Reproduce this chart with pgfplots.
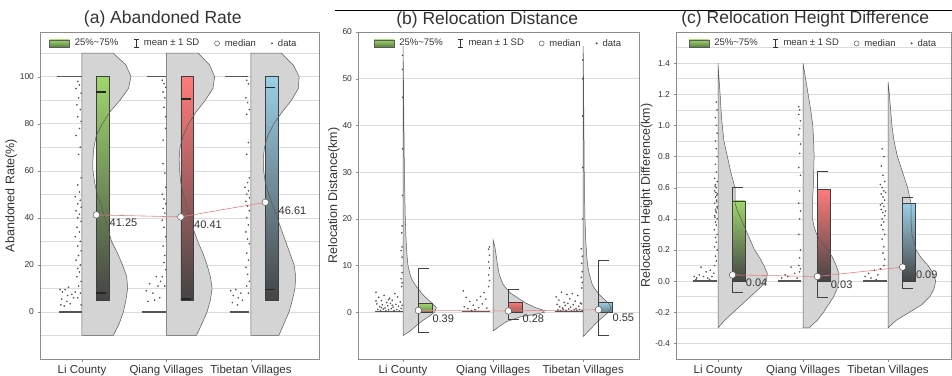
\documentclass[border=0pt]{standalone}
\usepackage{pgfplots}
\pgfplotsset{compat=1.18}
\usepackage{pgfplotstable}
\usepackage{fontspec}
\setmainfont{Liberation Sans}

\definecolor{vgray}{HTML}{D4D4D4}
\definecolor{vline}{HTML}{5A5A5A}
\definecolor{gtop}{HTML}{9ED66C}
\definecolor{rtop}{HTML}{FF7A7A}
\definecolor{btop}{HTML}{9BCFE8}
\definecolor{bbot}{HTML}{444444}
\definecolor{dotc}{HTML}{555555}
\definecolor{medline}{HTML}{E98080}
\definecolor{gridc}{HTML}{DCDCDC}
\definecolor{framec}{HTML}{8C8C8C}
\definecolor{txt}{HTML}{333333}

% ---------- violin outlines (y, width offset from category) ----------
\pgfplotstableread[row sep=\\]{y w\\ -10 0\\ 110 0\\ 110 0.37\\ 105 0.52\\ 100 0.58\\ 95 0.55\\ 90 0.45\\ 85 0.33\\ 80 0.24\\ 75 0.17\\ 70 0.14\\ 65 0.13\\ 60 0.13\\ 55 0.15\\ 50 0.18\\ 45 0.23\\ 40 0.27\\ 35 0.31\\ 30 0.35\\ 25 0.42\\ 20 0.48\\ 15 0.53\\ 10 0.54\\ 5 0.52\\ 0 0.49\\ -5 0.44\\ -10 0.37\\ -10 0\\}\vaLi
\pgfplotstableread[row sep=\\]{y w\\ -10 0\\ 110 0\\ 110 0.375\\ 105 0.51\\ 100 0.57\\ 95 0.55\\ 90 0.46\\ 85 0.35\\ 80 0.26\\ 75 0.2\\ 70 0.16\\ 65 0.15\\ 60 0.155\\ 55 0.17\\ 50 0.2\\ 45 0.24\\ 40 0.28\\ 35 0.32\\ 30 0.37\\ 25 0.43\\ 20 0.48\\ 15 0.52\\ 10 0.54\\ 5 0.52\\ 0 0.48\\ -5 0.42\\ -10 0.355\\ -10 0\\}\vaQi
\pgfplotstableread[row sep=\\]{y w\\ -10 0\\ 110 0\\ 110 0.36\\ 105 0.5\\ 100 0.57\\ 95 0.56\\ 90 0.48\\ 85 0.37\\ 80 0.27\\ 75 0.2\\ 70 0.16\\ 65 0.145\\ 60 0.15\\ 55 0.17\\ 50 0.21\\ 45 0.26\\ 40 0.31\\ 35 0.36\\ 30 0.41\\ 25 0.46\\ 20 0.51\\ 15 0.53\\ 10 0.52\\ 5 0.49\\ 0 0.45\\ -5 0.39\\ -10 0.33\\ -10 0\\}\vaTi

\pgfplotstableread[row sep=\\]{y w\\ -5 0\\ 57 0\\ 50 0.005\\ 40 0.01\\ 30 0.015\\ 20 0.025\\ 15 0.035\\ 12 0.045\\ 10 0.055\\ 8 0.08\\ 7 0.10\\ 6 0.13\\ 5 0.17\\ 4 0.21\\ 3 0.26\\ 2 0.32\\ 1 0.37\\ 0 0.35\\ -1 0.28\\ -2 0.2\\ -3 0.14\\ -4 0.08\\ -5 0\\}\vbLi
\pgfplotstableread[row sep=\\]{y w\\ -4 0\\ 15.5 0\\ 14 0.02\\ 12 0.035\\ 10 0.05\\ 8 0.07\\ 6 0.11\\ 5 0.15\\ 4 0.2\\ 3 0.28\\ 2 0.36\\ 1 0.47\\ 0.5 0.55\\ 0 0.57\\ -0.5 0.45\\ -1 0.3\\ -2 0.15\\ -3 0.07\\ -4 0\\}\vbQi
\pgfplotstableread[row sep=\\]{y w\\ -5.2 0\\ 57 0\\ 50 0.004\\ 40 0.008\\ 30 0.012\\ 20 0.02\\ 15 0.03\\ 12 0.04\\ 10 0.05\\ 8 0.07\\ 6 0.10\\ 5 0.13\\ 4 0.17\\ 3 0.22\\ 2 0.28\\ 1 0.31\\ 0 0.28\\ -1 0.22\\ -2 0.16\\ -3 0.11\\ -4 0.06\\ -5.2 0\\}\vbTi

\pgfplotstableread[row sep=\\]{y w\\ -0.3 0\\ 1.4 0\\ 1.3 0.012\\ 1.2 0.025\\ 1.1 0.035\\ 1.0 0.05\\ 0.9 0.07\\ 0.8 0.11\\ 0.7 0.15\\ 0.6 0.2\\ 0.55 0.2\\ 0.5 0.2\\ 0.45 0.23\\ 0.4 0.27\\ 0.3 0.35\\ 0.2 0.43\\ 0.15 0.49\\ 0.1 0.54\\ 0.05 0.58\\ 0 0.57\\ -0.05 0.48\\ -0.1 0.38\\ -0.15 0.28\\ -0.2 0.18\\ -0.25 0.08\\ -0.3 0\\}\vcLi
\pgfplotstableread[row sep=\\]{y w\\ -0.3 0\\ 1.4 0\\ 1.3 0.03\\ 1.2 0.06\\ 1.1 0.09\\ 1.0 0.115\\ 0.9 0.125\\ 0.8 0.13\\ 0.7 0.125\\ 0.6 0.12\\ 0.5 0.11\\ 0.4 0.11\\ 0.35 0.13\\ 0.3 0.16\\ 0.25 0.22\\ 0.2 0.29\\ 0.15 0.35\\ 0.1 0.39\\ 0.05 0.42\\ 0 0.42\\ -0.05 0.4\\ -0.1 0.36\\ -0.15 0.3\\ -0.2 0.24\\ -0.25 0.17\\ -0.3 0.07\\ -0.3 0\\}\vcQi
\pgfplotstableread[row sep=\\]{y w\\ -0.3 0\\ 1.28 0\\ 1.2 0.015\\ 1.1 0.03\\ 1.0 0.045\\ 0.9 0.07\\ 0.8 0.11\\ 0.7 0.17\\ 0.6 0.23\\ 0.5 0.27\\ 0.4 0.27\\ 0.3 0.28\\ 0.2 0.33\\ 0.15 0.39\\ 0.1 0.47\\ 0.05 0.53\\ 0 0.56\\ -0.05 0.54\\ -0.1 0.49\\ -0.15 0.4\\ -0.2 0.25\\ -0.25 0.1\\ -0.3 0\\}\vcTi

\pgfplotsset{
  panel/.style={
    scale only axis, anchor=south west, height=327pt,
    axis line style={framec},
    tick style={framec},
    tick align=outside, major tick length=2.5pt, minor tick length=0pt,
    xtick pos=bottom, ytick pos=left,
    ymajorgrids, yminorgrids,
    major grid style={gridc, line width=0.5pt},
    minor grid style={gridc, line width=0.5pt},
    xtick={1,2,3}, xticklabels={Li County, Qiang Villages, Tibetan Villages},
    xticklabel style={font=\fontsize{11.5}{13}\selectfont, text=txt},
    yticklabel style={font=\fontsize{8.5}{10}\selectfont, text=txt},
    /pgf/number format/assume math mode=true,
    ylabel style={font=\fontsize{12.5}{14}\selectfont, text=txt},
    ylabel shift=-4pt,
    title style={font=\fontsize{17.5}{20}\selectfont, anchor=base, yshift=2pt, text=txt},
    legend style={draw=none, fill=none, at={(0.5,1)}, anchor=north, yshift=-4pt,
      font=\fontsize{9.5}{11}\selectfont, text=txt, legend columns=4,
      /tikz/every odd column/.append style={column sep=3pt},
      /tikz/every even column/.append style={column sep=13pt}, inner sep=1pt},
    unbounded coords=jump,
  },
  violinfill/.style={fill=vgray, draw=none, forget plot},
  violinline/.style={draw=vline, line width=0.5pt, fill=none, forget plot},
  boxstyle/.style={draw=vline!70!black, line width=0.5pt, forget plot},
  dots/.style={only marks, mark=*, mark size=0.6pt, color=dotc, mark options={draw=none, fill=dotc}, forget plot},
  dotline/.style={dotc, line width=1.3pt, forget plot},
  whisk/.style={black!75, line width=0.7pt, forget plot},
  medl/.style={medline, line width=0.6pt, forget plot},
  medm/.style={only marks, mark=*, mark size=3.3pt, mark options={fill=white, draw=vline, line width=0.5pt}, forget plot},
}
\tikzset{vlabel/.style={anchor=west, inner sep=0.5pt, yshift=-8pt, font=\fontsize{11}{12}\selectfont, text=txt}}

\newcommand{\legendrow}{%
  \addlegendimage{legend image code/.code={\shade[top color=gtop, bottom color=gtop!60!black, draw=vline] (0pt,-3.5pt) rectangle (20pt,3.5pt);}}
  \addlegendentry{25\%\textasciitilde75\%}
  \addlegendimage{legend image code/.code={\draw[black!80, line width=0.6pt] (4pt,-4pt)--(4pt,4pt) (1.5pt,4pt)--(6.5pt,4pt) (1.5pt,-4pt)--(6.5pt,-4pt);}}
  \addlegendentry{mean ± 1 SD}
  \addlegendimage{legend image code/.code={\draw[vline, fill=white, line width=0.5pt] (4pt,0pt) circle (2.5pt);}}
  \addlegendentry{median}
  \addlegendimage{legend image code/.code={\fill[dotc] (4pt,0pt) circle (0.8pt);}}
  \addlegendentry{data}
}

\begin{document}
\begin{tikzpicture}
\useasboundingbox (0pt,0pt) rectangle (952pt,375pt);
\draw[black, line width=0.8pt] (335pt,365pt) -- (952pt,365pt);

% ================= (a) =================
\begin{axis}[panel, at={(40pt,16pt)}, width=279pt,
  xmin=0.503, xmax=3.805, ymin=-20, ymax=119,
  ytick={0,20,...,100}, minor ytick={-10,10,30,50,70,90,110},
  ylabel={Abandoned Rate(\%)}, title={(a) Abandoned Rate},
  title style={at={(0.44,1)}}, legend style={at={(0.48,1)}}]
\legendrow
\addplot[violinfill] table[x expr=\thisrow{w}+1, y=y] {\vaLi};
\addplot[violinfill] table[x expr=\thisrow{w}+2, y=y] {\vaQi};
\addplot[violinfill] table[x expr=\thisrow{w}+3, y=y] {\vaTi};
% data
\addplot[dotline] coordinates {(0.73,0) (1.0,0)};
\addplot[dotline] coordinates {(0.70,100) (1.0,100)};
\addplot[dotline] coordinates {(1.71,0) (2.0,0)};
\addplot[dotline] coordinates {(1.77,100) (2.0,100)};
\addplot[dotline] coordinates {(2.75,0) (2.98,0)};
\addplot[dotline] coordinates {(2.69,100) (2.96,100)};
\addplot[dots] coordinates {(0.95,98)(0.97,96.5)(0.93,95)(0.99,93)(0.96,91)(0.94,88)(0.98,86)(0.95,83)(0.99,81)(0.97,78)(0.93,75)(0.98,70)(0.96,67)(0.99,57)(0.95,54)(0.97,51)(0.92,49)(0.98,47.5)(0.95,46)(0.99,44.5)(0.93,43)(0.97,41.5)(0.95,40)(0.99,38.5)(0.94,36)(0.97,34)(0.92,32)(0.98,30)(0.95,28)(0.99,26)(0.96,24)(0.93,22)(0.98,20)(0.95,18.5)(0.97,17)(0.94,15)(0.99,13)(0.96,11)(0.98,8)(0.95,6)(0.99,3)
(0.74,9.5)(0.77,8.5)(0.80,9.5)(0.84,10.5)(0.88,7.5)(0.76,5.5)(0.82,4.5)(0.86,3.5)(0.90,6)(0.79,2.5)(0.92,8.5)(0.75,3)(0.83,7)};
\addplot[dots] coordinates {(1.95,98.5)(1.97,97)(1.99,95.5)(1.96,93.5)(1.98,91)(1.97,87)(1.99,83)(1.96,73)(1.98,59)(1.99,53)(1.95,50)(1.97,48)(1.99,46)(1.96,44)(1.98,42)(1.95,39)(1.97,36)(1.99,32)(1.96,28)(1.98,24)(1.97,21)(1.99,18)(1.95,15)(1.98,11)(1.96,63)(1.99,78)
(1.76,9)(1.80,12)(1.84,8)(1.88,15)(1.90,11)(1.92,6)(1.78,4.5)(1.86,5)(1.93,13)};
\addplot[dots] coordinates {(2.95,98.5)(2.97,97)(2.94,91)(2.96,89)(2.98,86)(2.95,84)(2.97,72)(2.95,67)(2.98,57)(2.96,55)(2.93,53)(2.97,51.5)(2.95,50)(2.98,48.5)(2.94,47)(2.96,45)(2.98,43)(2.95,40)(2.97,37)(2.94,34)(2.96,31)(2.98,29)(2.95,25)(2.97,22)(2.94,19)(2.96,16)(2.98,13)(2.95,11)(2.97,8)
(2.76,9)(2.79,7)(2.82,9.5)(2.85,6)(2.88,8)(2.78,4)(2.84,3)(2.90,5)};
% boxes
\addplot[boxstyle, top color=gtop, bottom color=bbot] coordinates {(1.17,5)(1.32,5)(1.32,100)(1.17,100)(1.17,5)};
\addplot[boxstyle, top color=rtop, bottom color=bbot] coordinates {(2.17,5)(2.32,5)(2.32,100)(2.17,100)(2.17,5)};
\addplot[boxstyle, top color=btop, bottom color=bbot] coordinates {(3.17,5)(3.32,5)(3.32,100)(3.17,100)(3.17,5)};
\addplot[violinline] table[x expr=\thisrow{w}+1, y=y] {\vaLi};
\addplot[violinline] table[x expr=\thisrow{w}+2, y=y] {\vaQi};
\addplot[violinline] table[x expr=\thisrow{w}+3, y=y] {\vaTi};
% whisker caps (mean +- SD); the vertical part lies on the box edge
\addplot[whisk, line width=1.3pt, black!85] coordinates {(1.17,93.5)(1.29,93.5)(1.2,nan)(1.17,8)(1.29,8)(1.2,nan)(2.17,90.5)(2.29,90.5)(2.2,nan)(2.17,5.5)(2.29,5.5)(2.2,nan)(3.17,95.5)(3.29,95.5)(3.2,nan)(3.17,9.5)(3.29,9.5)};
% medians
\addplot[medl] coordinates {(1.17,41.25)(2.17,40.41)(3.17,46.61)};
\addplot[medm] coordinates {(1.17,41.25)(2.17,40.41)(3.17,46.61)};
\node[vlabel] at (axis cs:1.32,41.25) {41.25};
\node[vlabel] at (axis cs:2.32,40.41) {40.41};
\node[vlabel] at (axis cs:3.32,46.61) {46.61};
\end{axis}

% ================= (b) =================
\begin{axis}[panel, at={(358pt,16pt)}, width=281pt,
  xmin=0.5, xmax=3.62, ymin=-10, ymax=60,
  ytick={0,10,...,60},
  ylabel={Relocation Distance(km)}, title={(b) Relocation Distance},
  title style={at={(0.46,1)}}]
\legendrow
\addplot[violinfill] table[x expr=\thisrow{w}+1, y=y] {\vbLi};
\addplot[violinfill] table[x expr=\thisrow{w}+2, y=y] {\vbQi};
\addplot[violinfill] table[x expr=\thisrow{w}+3, y=y] {\vbTi};
\addplot[dotline] coordinates {(0.69,0.1) (1.0,0.1)};
\addplot[dotline] coordinates {(1.66,0.1) (1.97,0.1)};
\addplot[dotline] coordinates {(2.69,0.1) (3.0,0.1)};
\addplot[dots] coordinates {(0.70,4.3)(0.73,3.2)(0.76,2.5)(0.79,3.6)(0.82,2.1)(0.85,3.0)(0.88,2.6)(0.91,4.0)(0.94,3.3)(0.97,2.2)
(0.71,1.8)(0.74,1.2)(0.77,1.6)(0.80,0.9)(0.83,1.4)(0.86,1.9)(0.89,1.1)(0.92,1.7)(0.95,1.3)(0.98,0.8)
(0.72,0.6)(0.75,0.4)(0.78,0.7)(0.81,0.3)(0.84,0.5)(0.87,0.8)(0.90,0.4)(0.93,0.6)(0.96,0.3)(0.99,1.5)
(0.70,2.4)(0.88,1.5)(0.84,2.7)(0.76,1.0)
(0.985,5.5)(0.99,6.3)(0.98,7.2)(0.99,8.5)(0.985,10)(0.99,11.8)(0.98,13.2)(0.99,14)(0.985,17)(0.99,18.5)(0.995,25)(0.995,35)(0.995,46)(0.995,52)(0.995,55)};
\addplot[dots] coordinates {(1.67,4.6)(1.70,3.2)(1.74,2.3)(1.78,1.5)(1.82,2.6)(1.86,3.4)(1.88,1.8)(1.90,4.2)(1.92,2.8)(1.68,1.2)(1.72,0.8)(1.80,0.6)(1.84,1.0)(1.76,0.4)(1.93,0.9)
(1.95,5.5)(1.96,6.8)(1.95,8)(1.96,9.5)(1.95,10.8)(1.96,12.2)(1.95,13.5)(1.96,14)};
\addplot[dots] coordinates {(2.70,3.3)(2.73,2.6)(2.76,4.3)(2.79,2.1)(2.82,3.8)(2.85,2.9)(2.88,4.0)(2.91,2.4)(2.94,3.6)(2.97,2.0)
(2.71,1.7)(2.74,1.2)(2.77,0.9)(2.80,1.5)(2.83,1.9)(2.86,1.1)(2.89,1.6)(2.92,0.8)(2.95,1.3)(2.98,1.8)
(2.72,0.5)(2.75,0.3)(2.78,0.6)(2.81,0.4)(2.84,0.7)(2.87,0.3)(2.90,0.5)(2.93,0.4)(2.96,0.6)(2.99,0.4)
(2.985,5.2)(2.99,6.4)(2.98,7.5)(2.99,8.7)(2.985,10.5)(2.99,12)(2.98,13.6)(2.995,20)(2.995,31)(2.995,42)(2.995,50)(2.995,54)};
\addplot[boxstyle, top color=gtop, bottom color=gtop!45!bbot] coordinates {(1.17,0)(1.32,0)(1.32,1.9)(1.17,1.9)(1.17,0)};
\addplot[boxstyle, top color=rtop, bottom color=rtop!45!bbot] coordinates {(2.17,0)(2.32,0)(2.32,2.2)(2.17,2.2)(2.17,0)};
\addplot[boxstyle, top color=btop, bottom color=btop!45!bbot] coordinates {(3.17,0)(3.32,0)(3.32,2.2)(3.17,2.2)(3.17,0)};
\addplot[violinline] table[x expr=\thisrow{w}+1, y=y] {\vbLi};
\addplot[violinline] table[x expr=\thisrow{w}+2, y=y] {\vbQi};
\addplot[violinline] table[x expr=\thisrow{w}+3, y=y] {\vbTi};
\addplot[whisk] coordinates {(1.29,9.4)(1.17,9.4)(1.17,-4.2)(1.29,-4.2)};
\addplot[whisk] coordinates {(2.29,4.9)(2.17,4.9)(2.17,-1.5)(2.29,-1.5)};
\addplot[whisk] coordinates {(3.29,11.1)(3.17,11.1)(3.17,-5.0)(3.29,-5.0)};
\addplot[medl] coordinates {(1.17,0.39)(2.17,0.28)(3.17,0.55)};
\addplot[medm] coordinates {(1.17,0.39)(2.17,0.28)(3.17,0.55)};
\node[vlabel] at (axis cs:1.32,0.39) {0.39};
\node[vlabel] at (axis cs:2.32,0.28) {0.28};
\node[vlabel] at (axis cs:3.32,0.55) {0.55};
\end{axis}

% ================= (c) =================
\begin{axis}[panel, at={(676pt,16pt)}, width=275pt,
  xmin=0.506, xmax=3.74, ymin=-0.5, ymax=1.6,
  ytick={-0.4,-0.2,...,1.41}, minor ytick={-0.3,-0.1,0.1,0.3,0.5,0.7,0.9,1.1,1.3,1.5},
  yticklabel style={/pgf/number format/.cd, fixed, fixed zerofill, precision=1},
  ylabel={Relocation Height Difference(km)}, title={(c) Relocation Height Difference},
  title style={at={(0.47,1)}}]
\legendrow
\addplot[violinfill] table[x expr=\thisrow{w}+1, y=y] {\vcLi};
\addplot[violinfill] table[x expr=\thisrow{w}+2, y=y] {\vcQi};
\addplot[violinfill] table[x expr=\thisrow{w}+3, y=y] {\vcTi};
\addplot[dotline] coordinates {(0.70,0) (0.99,0)};
\addplot[dotline] coordinates {(1.71,0) (1.98,0)};
\addplot[dotline] coordinates {(2.71,0) (2.985,0)};
\addplot[dots] coordinates {(0.72,0.03)(0.75,0.02)(0.78,0.04)(0.80,0.09)(0.83,0.03)(0.86,0.06)(0.88,0.02)(0.91,0.07)(0.93,0.03)(0.95,0.05)(0.74,0.01)(0.90,0.01)
(0.96,0.1)(0.98,0.13)(0.97,0.16)(0.99,0.2)(0.96,0.22)(0.98,0.25)(0.97,0.28)(0.99,0.3)(0.96,0.33)(0.98,0.36)(0.97,0.38)(0.99,0.4)(0.96,0.42)(0.98,0.44)(0.97,0.46)(0.99,0.48)(0.96,0.5)(0.98,0.52)(0.97,0.54)(0.99,0.56)(0.96,0.58)(0.98,0.6)(0.97,0.62)(0.99,0.64)(0.96,0.66)(0.98,0.7)(0.97,0.75)(0.99,0.8)(0.98,0.85)(0.97,0.9)(0.99,0.95)(0.98,1.0)(0.97,1.05)(0.99,1.1)(0.98,1.15)(0.975,0.45)(0.985,0.55)(0.965,0.41)(0.985,0.51)(0.965,0.61)(0.975,0.57)(0.99,0.47)};
\addplot[dots] coordinates {(1.75,0.02)(1.79,0.04)(1.82,0.03)(1.86,0.09)(1.90,0.05)(1.93,0.02)
(1.95,1.12)(1.96,1.1)(1.95,1.07)(1.97,1.03)(1.96,0.98)(1.95,0.94)(1.97,0.88)(1.96,0.82)(1.95,0.73)(1.97,0.68)(1.96,0.58)(1.95,0.5)(1.97,0.45)(1.96,0.4)(1.95,0.3)(1.97,0.2)(1.96,0.15)(1.95,0.1)(1.97,0.08)(1.96,0.06)};
\addplot[dots] coordinates {(2.73,0.03)(2.77,0.05)(2.80,0.02)(2.84,0.07)(2.88,0.04)(2.91,0.08)(2.86,0.01)
(2.93,0.85)(2.95,0.8)(2.92,0.74)(2.94,0.68)(2.96,0.64)(2.93,0.6)(2.95,0.58)(2.92,0.56)(2.94,0.54)(2.96,0.52)(2.93,0.5)(2.95,0.48)(2.92,0.46)(2.94,0.44)(2.96,0.42)(2.93,0.4)(2.95,0.38)(2.92,0.36)(2.94,0.33)(2.96,0.3)(2.93,0.27)(2.95,0.22)(2.94,0.18)(2.96,0.14)(2.95,0.1)(2.91,0.62)(2.97,0.57)(2.91,0.49)(2.97,0.45)};
\addplot[boxstyle, top color=gtop, bottom color=bbot] coordinates {(1.17,0)(1.32,0)(1.32,0.515)(1.17,0.515)(1.17,0)};
\addplot[boxstyle, top color=rtop, bottom color=bbot] coordinates {(2.17,0)(2.32,0)(2.32,0.59)(2.17,0.59)(2.17,0)};
\addplot[boxstyle, top color=btop, bottom color=bbot] coordinates {(3.17,0)(3.32,0)(3.32,0.5)(3.17,0.5)(3.17,0)};
\addplot[violinline] table[x expr=\thisrow{w}+1, y=y] {\vcLi};
\addplot[violinline] table[x expr=\thisrow{w}+2, y=y] {\vcQi};
\addplot[violinline] table[x expr=\thisrow{w}+3, y=y] {\vcTi};
\addplot[whisk] coordinates {(1.29,0.6)(1.17,0.6)(1.17,-0.072)(1.29,-0.072)};
\addplot[whisk] coordinates {(2.29,0.707)(2.17,0.707)(2.17,-0.107)(2.29,-0.107)};
\addplot[whisk] coordinates {(3.29,0.537)(3.17,0.537)(3.17,-0.047)(3.29,-0.047)};
\addplot[medl] coordinates {(1.17,0.04)(2.17,0.03)(3.17,0.09)};
\addplot[medm] coordinates {(1.17,0.04)(2.17,0.03)(3.17,0.09)};
\node[vlabel] at (axis cs:1.32,0.04) {0.04};
\node[vlabel] at (axis cs:2.32,0.03) {0.03};
\node[vlabel] at (axis cs:3.32,0.09) {0.09};
\end{axis}
\end{tikzpicture}
\end{document}
